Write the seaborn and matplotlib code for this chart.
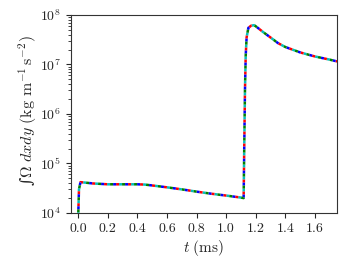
import numpy as np
import matplotlib
matplotlib.use("Agg")
import matplotlib.pyplot as plt
import seaborn as sns
import pandas as pd

# time (ms) and integrated vorticity values
t_ms = [0.0, 0.005, 0.015, 0.05, 0.1, 0.2, 0.3, 0.4, 0.45, 0.5, 0.6, 0.7,
        0.8, 0.9, 1.0, 1.1, 1.118, 1.122, 1.127, 1.132, 1.138, 1.15, 1.17,
        1.19, 1.21, 1.25, 1.3, 1.35, 1.4, 1.5, 1.6, 1.7, 1.75]
omega = [9.0e3, 3.0e4, 4.2e4, 4.1e4, 3.95e4, 3.8e4, 3.8e4, 3.8e4, 3.75e4,
         3.6e4, 3.3e4, 3.0e4, 2.7e4, 2.45e4, 2.25e4, 2.05e4, 2.0e4, 2.0e5,
         3.0e6, 1.5e7, 3.5e7, 5.5e7, 6.1e7, 6.2e7, 5.6e7, 4.5e7, 3.5e7,
         2.7e7, 2.25e7, 1.75e7, 1.45e7, 1.25e7, 1.15e7]

runs = ["a", "b", "c", "d"]
run_colors = ["c", "r", "b", "g"]

sns.set_style("ticks")
plt.rcParams["mathtext.fontset"] = "cm"
plt.rcParams["font.family"] = "serif"
plt.rcParams["font.serif"] = ["cmr10"]
plt.rcParams["axes.unicode_minus"] = False
plt.rcParams["axes.formatter.use_mathtext"] = True

df = pd.DataFrame({"t": t_ms, "omega": omega})

fig = plt.figure(figsize=(3.49, 2.62), dpi=100)
ax = fig.add_axes([0.203, 0.187, 0.763, 0.756])

# overlapping runs, drawn as interleaved dashes so every colour shows
for i, (run, col) in enumerate(zip(runs, run_colors)):
    sns.lineplot(data=df, x="t", y="omega", ax=ax, color=col,
                 linewidth=1.8, linestyle=(i * 1.2, (1.2, 3.6)))

ax.set_yscale("log")
ax.set_xlim(-0.05, 1.75)
ax.set_ylim(1e4, 1e8)
ax.set_xticks([0.0, 0.2, 0.4, 0.6, 0.8, 1.0, 1.2, 1.4, 1.6])
ax.set_xticklabels(["0.0", "0.2", "0.4", "0.6", "0.8", "1.0", "1.2", "1.4", "1.6"])
ax.tick_params(labelsize=10)
ax.set_xlabel(r"$t\ (\mathrm{ms})$", fontsize=11, labelpad=2)
# plain-text integral sign from DejaVu Serif, rest in cm mathtext
ax.set_ylabel("\u222b" + r"$\Omega\ dxdy\ (\mathrm{kg\ m^{-1}\,s^{-2}})$",
              fontsize=11.5, family="DejaVu Serif")
ax.yaxis.set_label_coords(-0.12, 0.515)
for s in ax.spines.values():
    s.set_color("#333333")
    s.set_linewidth(0.8)

fig.savefig("out.png", dpi=100)
